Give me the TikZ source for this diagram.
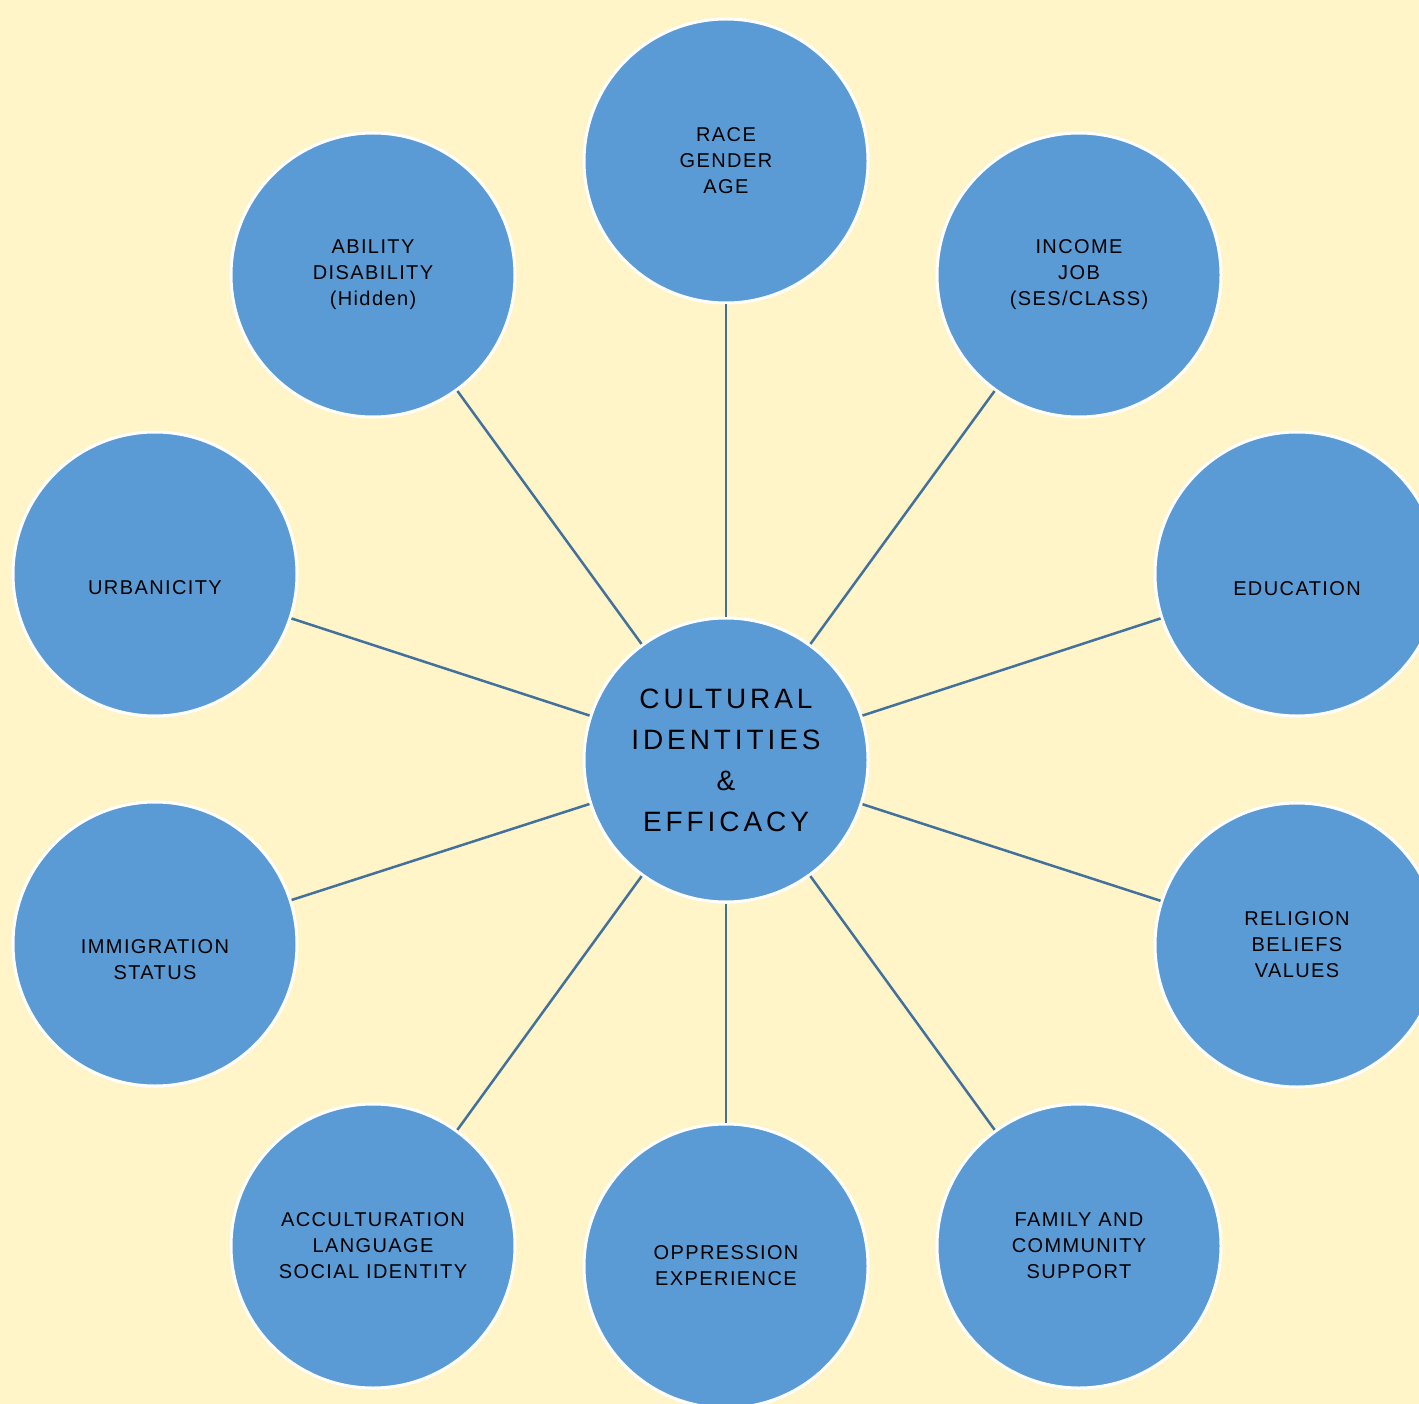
\documentclass[tikz,border=0pt]{standalone}
\usepackage{fontspec}
\setmainfont{Liberation Sans}
\newfontfamily\outerfont[LetterSpace=7]{Liberation Sans}
\newfontfamily\centerfont[LetterSpace=14]{Liberation Sans}
\definecolor{bgy}{RGB}{255,245,200}
\definecolor{bubbleblue}{RGB}{91,155,213}
\definecolor{linkblue}{RGB}{65,113,156}
\begin{document}
\begin{tikzpicture}[x=1pt,y=-1pt,
  bubble/.style={circle, draw=white, line width=3pt, fill=bubbleblue,
    minimum size=284pt, inner sep=0pt, align=center,
    font=\outerfont\fontsize{20}{26}\selectfont},
  bubtext/.style={inner sep=0pt, align=center,
    font=\outerfont\fontsize{20}{26}\selectfont},
  hub/.style={bubble, font=\centerfont\fontsize{28}{41}\selectfont},
  conn/.style={draw=linkblue, line width=2.5pt}]
\useasboundingbox (0,0) rectangle (1419,1404);
\clip (0,0) rectangle (1419,1404);
\fill[bgy] (0,0) rectangle (1419,1404);

\node[hub] (c) at (726,760) {CULTURAL\\IDENTITIES\\\&\\EFFICACY};

\node[bubble] (race) at (726,161) {RACE\\GENDER\\AGE};
\node[bubble] (abil) at (373,275) {ABILITY\\DISABILITY\\(Hidden)};
\node[bubble] (inc) at (1079,275) {INCOME\\JOB\\(SES/CLASS)};
\node[bubble] (urb) at (155,574) {};
\node[bubtext] (urbt) at (155,588) {URBANICITY};
\node[bubble] (edu) at (1297,574) {};
\node[bubtext] (edut) at (1297,589) {EDUCATION};
\node[bubble] (imm) at (155,944) {};
\node[bubtext] (immt) at (155,960) {IMMIGRATION\\STATUS};
\node[bubble] (rel) at (1297,945) {RELIGION\\BELIEFS\\VALUES};
\node[bubble] (acc) at (373,1246) {ACCULTURATION\\LANGUAGE\\SOCIAL IDENTITY};
\node[bubble] (opp) at (726,1266) {OPPRESSION\\EXPERIENCE};
\node[bubble] (fam) at (1079,1246) {FAMILY AND\\COMMUNITY\\SUPPORT};

\foreach \n in {race,abil,inc,urb,edu,imm,rel,acc,opp,fam}
  \draw[conn] (c) -- (\n);
\end{tikzpicture}
\end{document}
